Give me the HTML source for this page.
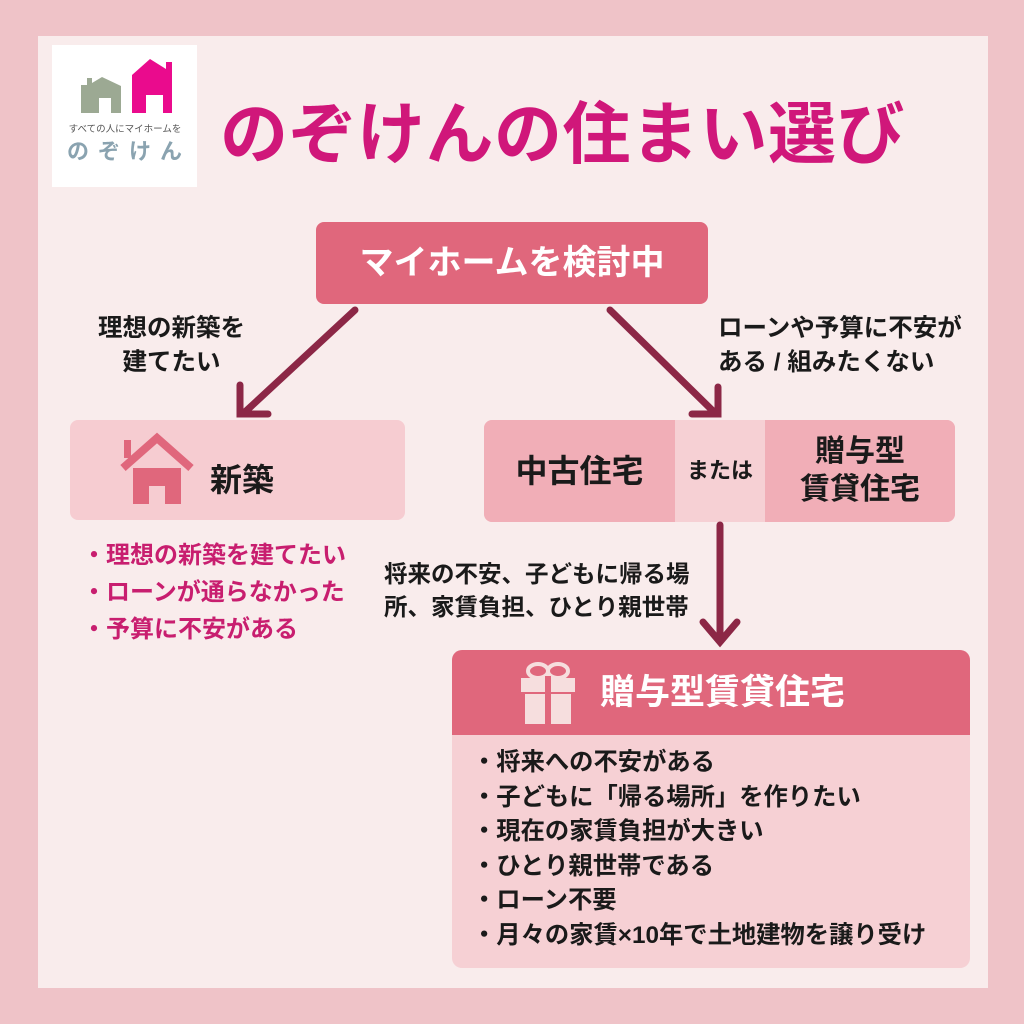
<!DOCTYPE html>
<html><head><meta charset="utf-8"><style>
*{margin:0;padding:0;box-sizing:border-box}
body{width:1024px;height:1024px;background:#efc3c8;position:relative;overflow:hidden;font-family:"Liberation Sans","Noto Sans CJK JP",sans-serif;font-weight:bold;color:#1a1a1a}
.a{position:absolute}
.panel{left:38px;top:36px;width:950px;height:952px;background:#f9ecec}
.t{white-space:nowrap}
</style></head><body>
<div class="a panel"></div>
<div class="a" style="left:52px;top:45px;width:145px;height:142px;background:#fff"></div>
<div class="a t" style="left:220px;top:79px;font-size:68px;color:#d0177a;letter-spacing:0.5px">のぞけんの住まい選び</div>
<div class="a" style="left:316px;top:222px;width:392px;height:82px;background:#e0677c;border-radius:8px;color:#fff;font-size:34px;text-align:center;line-height:82px">マイホームを検討中</div>
<div class="a t" style="left:98px;top:312px;font-size:24.5px;line-height:34px;text-align:center">理想の新築を<br>建てたい</div>
<div class="a t" style="left:718px;top:312px;font-size:24.5px;line-height:34px">ローンや予算に不安が<br>ある / 組みたくない</div>
<div class="a" style="left:70px;top:420px;width:335px;height:100px;background:#f6ccd1;border-radius:8px"></div>
<div class="a t" style="left:210px;top:455px;font-size:32px">新築</div>
<div class="a" style="left:484px;top:420px;width:471px;height:102px;background:#f6d0d4;border-radius:8px;overflow:hidden">
<div class="a" style="left:0;top:0;width:191px;height:102px;background:#f1aeb7;font-size:32px;text-align:center;line-height:102px">中古住宅</div>
<div class="a t" style="left:191px;top:0;width:90px;height:102px;font-size:22px;text-align:center;line-height:102px">または</div>
<div class="a" style="left:281px;top:0;width:190px;height:102px;background:#f1aeb7;font-size:30px;text-align:center;line-height:38px;padding-top:13px">贈与型<br>賃貸住宅</div>
</div>
<div class="a t" style="left:82px;top:537px;font-size:24px;line-height:37px;color:#c81e6f">・理想の新築を建てたい<br>・ローンが通らなかった<br>・予算に不安がある</div>
<div class="a t" style="left:384px;top:558px;font-size:23.5px;line-height:33px">将来の不安、子どもに帰る場<br>所、家賃負担、ひとり親世帯</div>
<div class="a" style="left:452px;top:650px;width:518px;height:318px;background:#f6d0d4;border-radius:10px;overflow:hidden">
<div style="height:85px;background:#e0677c;color:#fff;font-size:35px;line-height:85px;padding-left:148px">贈与型賃貸住宅</div>
<div class="t" style="padding:11px 0 0 20px;font-size:24.3px;line-height:34.5px">・将来への不安がある<br>・子どもに「帰る場所」を作りたい<br>・現在の家賃負担が大きい<br>・ひとり親世帯である<br>・ローン不要<br>・月々の家賃×10年で土地建物を譲り受け</div>
</div>
<svg class="a" style="left:0;top:0" width="1024" height="1024">
<g stroke="#8c2746" stroke-width="7" fill="none" stroke-linecap="round">
<line x1="355" y1="310" x2="245" y2="412"/><polyline points="240,385 240,414 268,414"/>
<line x1="610" y1="310" x2="714" y2="412"/><polyline points="692,414 718,414 718,387"/>
<line x1="720" y1="525" x2="720" y2="640"/><polyline points="703,622 720,642 737,622"/>
</g>
<g transform="translate(52,45)">
<path d="M29 68V40h6v-7h5v5l10-6 19 9v27h-10V53h-12v15z" fill="#9ca993"/>
<path d="M80 68V30l18-16 16 10v-7h6v51h-9V50h-17v18z" fill="#ea0b8d"/>
<text x="73" y="87" font-size="9.5" text-anchor="middle" fill="#555" font-weight="normal">すべての人にマイホームを</text>
<text x="77" y="114" font-size="22" text-anchor="middle" fill="#8aa3b0" letter-spacing="9">のぞけん</text>
</g>
<path d="M123 468l34-30 34 30" stroke="#e0677c" stroke-width="8" fill="none"/>
<rect x="124" y="440" width="7" height="18" fill="#e0677c"/>
<path d="M133 468h48v36h-16v-18h-16v18h-16z" fill="#e0677c"/>
<g fill="#f6dede"><rect x="521" y="678" width="54" height="14"/><rect x="525" y="694" width="46" height="30"/><ellipse cx="538" cy="671" rx="10" ry="7" fill="none" stroke="#f6dede" stroke-width="4"/><ellipse cx="558" cy="671" rx="10" ry="7" fill="none" stroke="#f6dede" stroke-width="4"/></g>
<rect x="545" y="676" width="6" height="48" fill="#e0677c"/>
</svg>
</body></html>
